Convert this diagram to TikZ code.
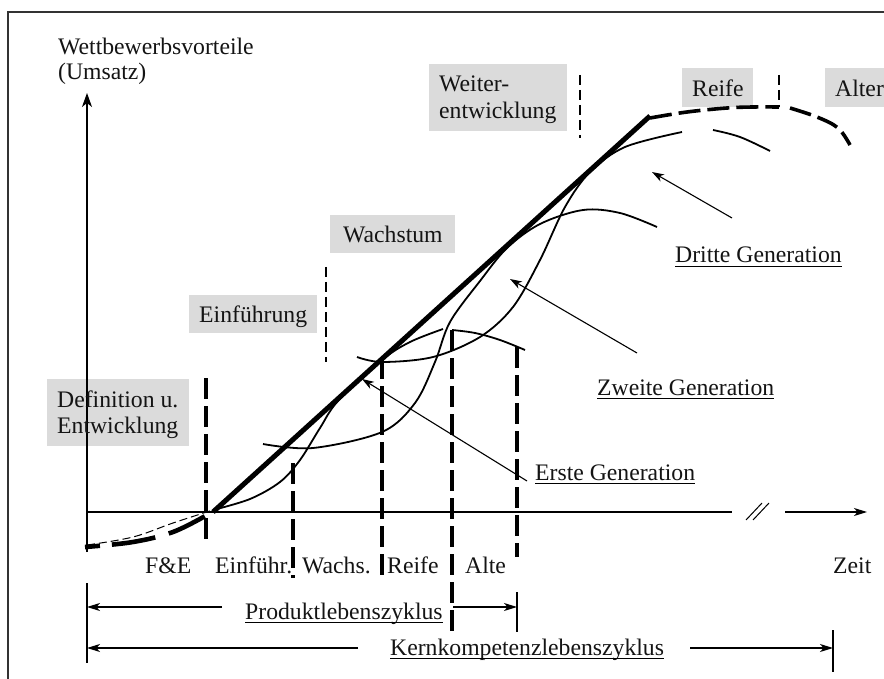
\documentclass[tikz,border=0pt]{standalone}
\usepackage{fontspec}
\setmainfont{Liberation Serif}
\usetikzlibrary{arrows.meta}
\begin{document}
\begin{tikzpicture}[x=1pt,y=-1pt,
  lbl/.style={inner sep=0pt, anchor=base west, font=\fontsize{23.7}{27}\selectfont, text=black!92},
  graybox/.style={fill=black!14, draw=none, inner sep=0pt, anchor=north west},
  frameline/.style={line width=1.3pt, draw=black!80},
  axis/.style={line width=1.3pt},
  axistip/.style={-{Stealth[length=14pt,width=10pt,inset=4pt]}},
  spantip/.style={-{Stealth[length=13pt,width=8pt,inset=3.5pt]}},
  envelope/.style={line width=5pt},
  envdash/.style={line width=3.6pt, dash pattern=on 22pt off 7pt},
  startdash/.style={line width=4.6pt, dash pattern=on 15pt off 12pt on 44pt off 14pt on 40pt off 10pt},
  thindash/.style={line width=1pt, dash pattern=on 8pt off 4pt},
  gencurve/.style={line width=1.8pt},
  phasecut/.style={line width=3.3pt, dash pattern=on 21pt off 7pt},
  stagecut/.style={line width=2pt, dash pattern=on 10pt off 5pt},
  pointer/.style={line width=1.1pt, -{Stealth[length=12pt,width=8pt,inset=3.5pt]}},
  uline/.style={line width=1.4pt},
  bar/.style={line width=1.3pt}
]
\useasboundingbox (0,0) rectangle (884,679);

% frame
\draw[frameline] (884,12) -- (8,12) -- (8,679);

% stage boxes
\node[graybox, minimum width=138pt, minimum height=67pt] (bWeiter) at (429,64) {};
\node[graybox, minimum width=71pt, minimum height=39pt] (bReife) at (682,68) {};
\node[graybox, minimum width=70pt, minimum height=39pt] (bAlter) at (825,68) {};
\node[graybox, minimum width=125pt, minimum height=38pt] (bWachs) at (330,215) {};
\node[graybox, minimum width=128pt, minimum height=38pt] (bEinf) at (189,295) {};
\node[graybox, minimum width=142pt, minimum height=67pt] (bDef) at (47,379) {};

% axes
\coordinate (O) at (87,512);
\coordinate (yTop) at (87,93);
\coordinate (yBot) at (87,552);
\coordinate (xBreakL) at (732,512);
\coordinate (xBreakR) at (785,512);
\coordinate (xEnd) at (867,512);
\draw[axis, axistip] (yBot) -- (yTop);
\draw[axis] (O) -- (xBreakL);
\draw[axis, spantip] (xBreakR) -- (xEnd);
\draw[line width=1pt] (746,520) -- (762,503) (753,520) -- (769,503);

% stage separators (thin dashed)
\draw[stagecut] (326,267) -- (326,362);
\draw[stagecut] (580,75) -- (580,138);
\draw[stagecut] (779,75) -- (779,107);

% phase separators (thick dashed)
\draw[phasecut] (206,378) -- (206,545);
\draw[phasecut] (293,463) -- (293,578);
\draw[phasecut] (382,358) -- (382,578);
\draw[phasecut] (452,330) -- (452,632);
\draw[phasecut] (517,347) -- (517,557);

% start of the first generation
\draw[thindash] plot[smooth, tension=0.6] coordinates {(87,545) (133,537) (173,523) (213,510)};
\draw[startdash] plot[smooth, tension=0.6] coordinates {(85,547) (133,542) (173,532) (207,515)};

% envelope
\coordinate (eA) at (213,512);
\coordinate (eB) at (650,116);
\draw[envelope] (eA) -- (eB);
\draw[envdash] plot[smooth, tension=0.6] coordinates {(650,118) (687,112) (727,108) (753,107) (779,107)};
\draw[envdash] plot[smooth, tension=0.6] coordinates {(790,108) (817,117) (838,128) (850,145)};

% first generation
\draw[gencurve] plot[smooth, tension=0.55] coordinates {(213,510) (250,499) (280,482) (300,460) (320,428) (338,401) (382,360) (410,342) (443,329)};
\draw[gencurve] plot[smooth, tension=0.6] coordinates {(452,330) (475,333) (500,340) (525,350)};

% second generation
\draw[gencurve] plot[smooth, tension=0.55] coordinates {(263,444) (313,448) (382,432) (415,403) (435,362) (450,322) (480,281) (507,248) (540,224) (583,210) (620,213) (657,227)};

% third generation
\draw[gencurve] plot[smooth, tension=0.55] coordinates {(357,357) (382,362) (433,357) (480,337) (513,307) (540,260) (565,207) (590,172) (625,147) (682,132)};
\draw[gencurve] plot[smooth, tension=0.6] coordinates {(713,130) (740,137) (770,151)};

% texts
\node[lbl] (tWett) at (58,55) {Wettbewerbsvorteile};
\node[lbl] (tUms) at (58,80) {(Umsatz)};
\node[lbl] (tWeiter1) at (439,92) {Weiter-};
\node[lbl] (tWeiter2) at (439,119) {entwicklung};
\node[lbl] (tReife) at (692,97) {Reife};
\node[lbl] (tAlter) at (835,97) {Alter};
\node[lbl] (tWachs) at (343,243) {Wachstum};
\node[lbl] (tEinf) at (199,323) {Einführung};
\node[lbl] (tDef1) at (57,407) {Definition u.};
\node[lbl] (tDef2) at (57,433) {Entwicklung};

\node[lbl] (pFE) at (145,573) {F\&E};
\node[lbl] (pEinf) at (215,573) {Einführ.};
\node[lbl] (pWachs) at (302,573) {Wachs.};
\node[lbl] (pReife) at (387,573) {Reife};
\node[lbl] (pAlte) at (465,573) {Alte};
\node[lbl] (tZeit) at (833,573) {Zeit};

\node[lbl] (tErste) at (535,480) {Erste Generation};
\node[lbl] (tZweite) at (597,395) {Zweite Generation};
\node[lbl] (tDritte) at (675,263) {Dritte Generation};
\node[lbl] (tProd) at (245,619) {Produktlebenszyklus};
\node[lbl] (tKern) at (390,655) {Kernkompetenzlebenszyklus};

\foreach \n in {tErste,tZweite,tDritte,tProd,tKern}
  \draw[uline] ([yshift=-3.5pt]\n.base west) -- ([yshift=-3.5pt]\n.base east);

% pointers to the generations
\coordinate (sErste) at (527,481);
\coordinate (pErste) at (362,379);
\coordinate (sZweite) at (637,353);
\coordinate (pZweite) at (510,279);
\coordinate (sDritte) at (732,218);
\coordinate (pDritte) at (652,172);
\draw[pointer] (sErste) -- (pErste);
\draw[pointer] (sZweite) -- (pZweite);
\draw[pointer] (sDritte) -- (pDritte);

% life cycle spans
\draw[bar] (87,583) -- (87,663);
\draw[bar] (517,592) -- (517,632);
\draw[bar] (833,630) -- (833,672);
\coordinate (prodL) at (87,607);
\coordinate (prodR) at (517,607);
\coordinate (kernL) at (87,648);
\coordinate (kernR) at (833,648);
\draw[axis, spantip] (222,607) -- (prodL);
\draw[axis, spantip] (453,607) -- (prodR);
\draw[axis, spantip] (358,648) -- (kernL);
\draw[axis, spantip] (690,648) -- (kernR);
\end{tikzpicture}
\end{document}
